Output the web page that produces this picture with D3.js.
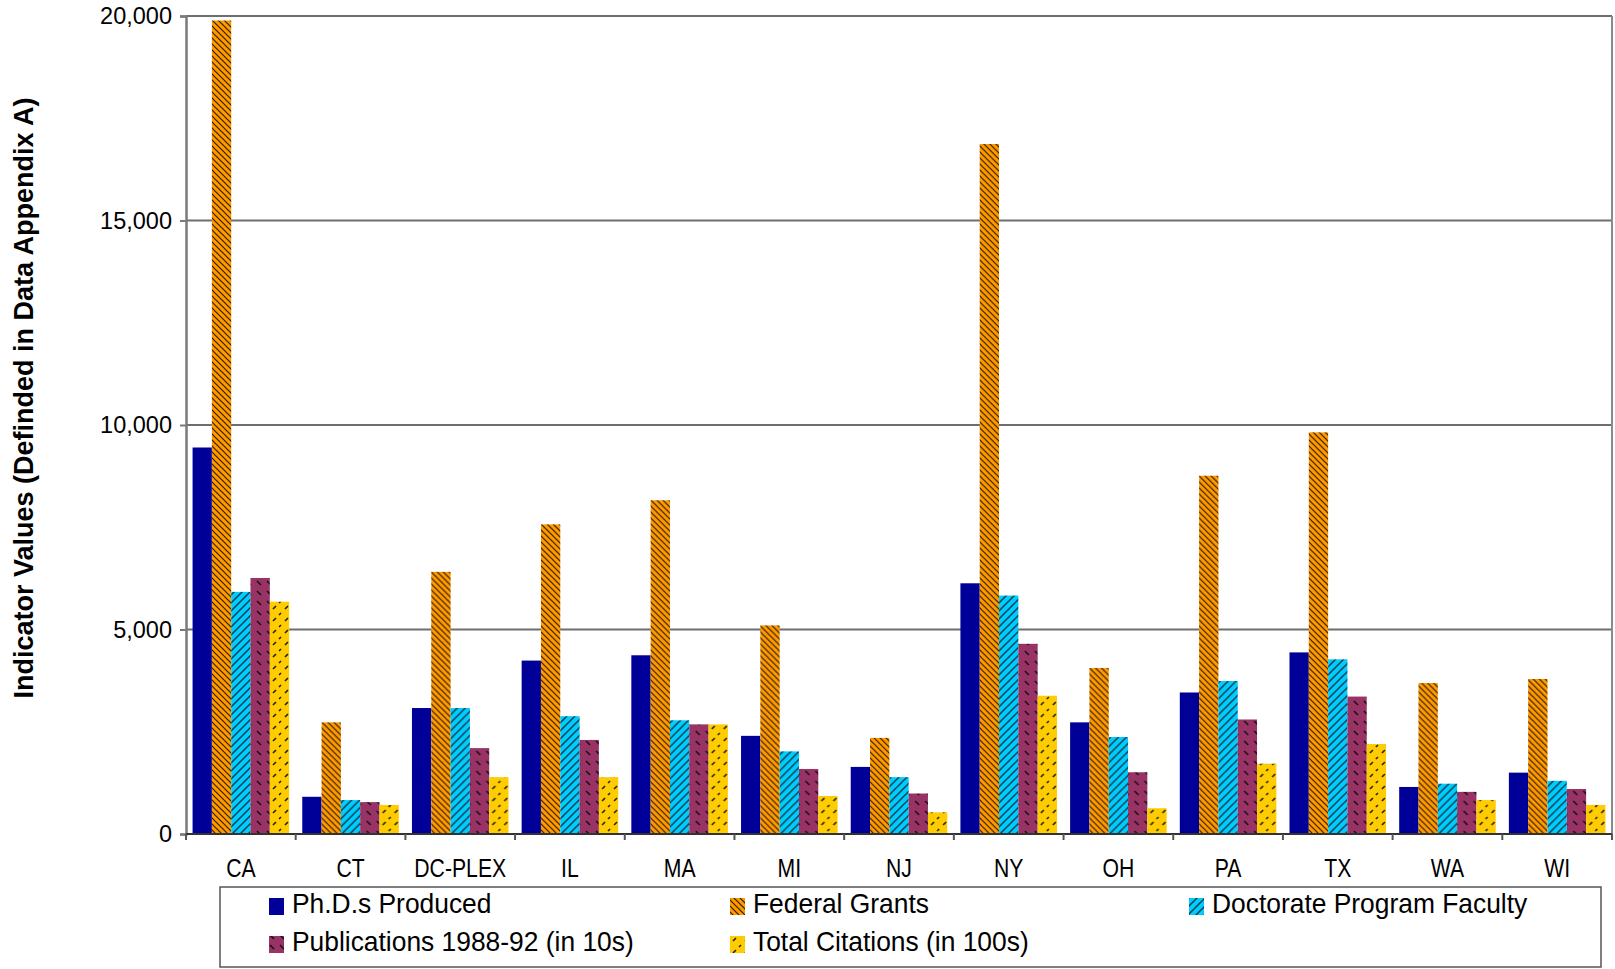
<!DOCTYPE html>
<html>
<head>
<meta charset="utf-8">
<script src="https://cdn.jsdelivr.net/npm/d3@7/dist/d3.min.js"></script>
<style>
   html, body { margin: 0; padding: 0; background: #fff; }
   svg text { font-family: "Liberation Sans", Arial, sans-serif; fill: #000; }
</style>
</head>
<body>
<div id="chart"></div>
<script>
/**
 * grouped bar chart of research indicators by state
 */
var states = ['CA', 'CT', 'DC-PLEX', 'IL', 'MA', 'MI', 'NJ', 'NY', 'OH', 'PA', 'TX', 'WA', 'WI'];

var seriesNames = ['Ph.D.s Produced', 'Federal Grants', 'Doctorate Program Faculty',
                   'Publications 1988-92 (in 10s)', 'Total Citations (in 100s)'];

var phdsProduced   = [9450, 910, 3080, 4240, 4370, 2400, 1640, 6130, 2730, 3460, 4440, 1150, 1500];
var federalGrants  = [19890, 2730, 6410, 7570, 8160, 5100, 2350, 16870, 4060, 8760, 9820, 3690, 3790];
var docFaculty     = [5920, 830, 3080, 2880, 2780, 2020, 1390, 5830, 2370, 3740, 4270, 1230, 1300];
var publications   = [6260, 780, 2100, 2300, 2680, 1590, 990, 4650, 1510, 2800, 3360, 1030, 1100];
var citations      = [5680, 710, 1390, 1390, 2680, 930, 530, 3380, 630, 1720, 2200, 830, 710];

var yTicks = [0, 5000, 10000, 15000, 20000];

var
   /**
    * pixel frame of the plot area
    */
   frame = {left: 186, right: 1612, top: 16, bottom: 834},

   /**
    * one fill per series, the last four are hatched patterns
    */
   fills = ['#000099', 'url(#pOrange)', 'url(#pCyan)', 'url(#pPurple)', 'url(#pYellow)'];

var svg = d3.select('#chart').append('svg')
   .attr('width', 1615)
   .attr('height', 969);

addPatterns(svg.append('defs'));

var values = [phdsProduced, federalGrants, docFaculty, publications, citations];

var x = d3.scaleBand()
   .domain(states)
   .range([frame.left, frame.right])
   .padding(0);

var xInner = d3.scaleBand()
   .domain(d3.range(seriesNames.length))
   .range([0, x.bandwidth()])
   .paddingInner(0)
   .paddingOuter(0.34);

var y = d3.scaleLinear()
   .domain([0, 20000])
   .range([frame.bottom, frame.top]);

drawGrid();
drawBars();
drawAxes();
drawLegend();

/**
 * horizontal gridlines plus the gray plot border
 */
function drawGrid()
{
   svg.append('g').attr('class', 'grid')
      .selectAll('line')
      .data(yTicks.filter(function(t){ return t > 0; }))
      .join('line')
         .attr('x1', frame.left)
         .attr('x2', frame.right)
         .attr('y1', function(t){ return y(t); })
         .attr('y2', function(t){ return y(t); })
         .attr('stroke', '#6e6e6e')
         .attr('stroke-width', 2);

   svg.append('line')
      .attr('x1', frame.right).attr('x2', frame.right)
      .attr('y1', frame.top).attr('y2', frame.bottom)
      .attr('stroke', '#8a8a8a')
      .attr('stroke-width', 2);

} // drawGrid()

/**
 * one group per state, five bars in it
 */
function drawBars()
{
   var groups = svg.append('g').attr('class', 'bars')
      .selectAll('g')
      .data(states)
      .join('g')
         .attr('transform', function(s){ return 'translate(' + x(s) + ',0)'; });

   groups.selectAll('rect')
      .data(function(s, i){
         return values.map(function(v, k){ return {k: k, v: v[i]}; });
      })
      .join('rect')
         .attr('x', function(d){ return xInner(d.k); })
         .attr('width', xInner.bandwidth())
         .attr('y', function(d){ return y(d.v); })
         .attr('height', function(d){ return y(0) - y(d.v); })
         .attr('fill', function(d){ return fills[d.k]; });

} // drawBars()

/**
 * left value axis, bottom category axis and the axis title
 */
function drawAxes()
{
   var left = svg.append('g')
      .attr('transform', 'translate(' + frame.left + ',0)')
      .call(d3.axisLeft(y).tickValues(yTicks).tickSize(6).tickPadding(8)
               .tickFormat(d3.format(',')));

   left.select('.domain').attr('stroke', '#7a7a7a').attr('stroke-width', 2.5);
   left.selectAll('.tick line').attr('stroke', '#7a7a7a').attr('stroke-width', 2);
   left.selectAll('.tick text')
      .attr('font-size', 23.5)
      .attr('font-family', '"Liberation Sans", Arial, sans-serif');

   var bottom = svg.append('g')
      .attr('transform', 'translate(0,' + frame.bottom + ')');

   bottom.append('line')
      .attr('x1', frame.left).attr('x2', frame.right)
      .attr('stroke', '#333').attr('stroke-width', 2);

   bottom.selectAll('line.tick')
      .data(states.concat(['end']))
      .join('line')
         .attr('class', 'tick')
         .attr('x1', function(s, i){ return frame.left + i * x.step(); })
         .attr('x2', function(s, i){ return frame.left + i * x.step(); })
         .attr('y1', 0)
         .attr('y2', 6)
         .attr('stroke', '#555')
         .attr('stroke-width', 2);

   // labels are tall and narrow in the original, so squeeze them sideways
   bottom.selectAll('text')
      .data(states)
      .join('text')
         .attr('transform', function(s){
            return 'translate(' + (x(s) + x.bandwidth() / 2) + ',43) scale(0.8,1)';
         })
         .attr('text-anchor', 'middle')
         .attr('font-size', 26.5)
         .text(function(s){ return s; });

   svg.append('text')
      .attr('transform', 'translate(33,398) rotate(-90)')
      .attr('text-anchor', 'middle')
      .attr('font-size', 27)
      .attr('font-weight', 'bold')
      .text('Indicator Values (Definded in Data Appendix A)');

} // drawAxes()

/**
 * boxed legend, three columns by two rows
 */
function drawLegend()
{
   var cols = [269, 730, 1189],
       rows = [906, 944];

   var legend = svg.append('g').attr('class', 'legend');

   legend.append('rect')
      .attr('x', 220).attr('y', 887)
      .attr('width', 1381).attr('height', 80)
      .attr('fill', '#fff')
      .attr('stroke', '#555')
      .attr('stroke-width', 1.5);

   var items = legend.selectAll('g')
      .data(seriesNames)
      .join('g')
         .attr('transform', function(n, i){
            return 'translate(' + cols[i % 3] + ',' + rows[Math.floor(i / 3)] + ')';
         });

   items.append('rect')
      .attr('x', 0).attr('y', -8)
      .attr('width', 15).attr('height', 17)
      .attr('fill', function(n, i){ return fills[i]; });

   items.append('text')
      .attr('transform', 'translate(23,7) scale(0.96,1)')
      .attr('font-size', 27.5)
      .text(function(n){ return n; });

} // drawLegend()

/**
 * hatched fills that imitate the old spreadsheet patterns
 * @param defs - svg defs selection
 */
function addPatterns(defs)
{
   hatch(defs, 'pOrange', '#ff9900', 6, 'M0,0L6,6M-3,3L3,9M3,-3L9,3', 1.2, 'rgba(0,0,0,0.8)');
   hatch(defs, 'pCyan', '#00ccff', 8, 'M0,8L8,0M-4,4L4,-4M4,12L12,4', 1.4, 'rgba(10,30,40,0.85)');
   hatch(defs, 'pPurple', '#993366', 10, 'M1,1L5,5', 1.6, '#111');
   hatch(defs, 'pYellow', '#ffcc00', 12, 'M3,9L6,6M9,3L11,1', 1.6, '#222');

} // addPatterns()

function hatch(defs, id, bg, size, path, width, ink)
{
   var p = defs.append('pattern')
      .attr('id', id)
      .attr('patternUnits', 'userSpaceOnUse')
      .attr('width', size)
      .attr('height', size);

   p.append('rect').attr('width', size).attr('height', size).attr('fill', bg);
   p.append('path')
      .attr('d', path)
      .attr('stroke', ink)
      .attr('stroke-width', width)
      .attr('fill', 'none');

} // hatch()
</script>
</body>
</html>
